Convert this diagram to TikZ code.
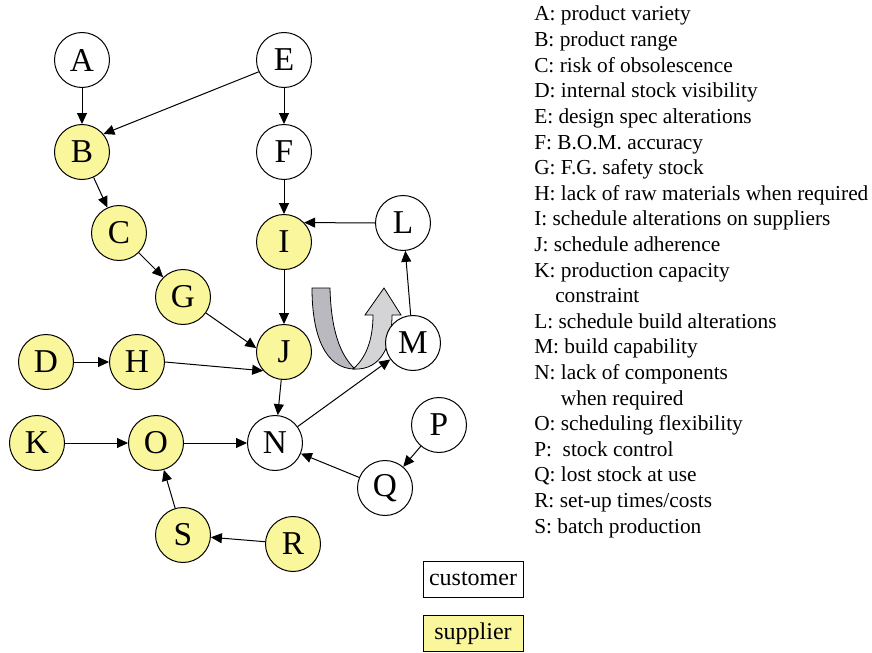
\documentclass[tikz,border=0pt]{standalone}
\usepackage{fontspec}
\setmainfont{Liberation Serif}
\usetikzlibrary{arrows.meta}
\definecolor{giallo}{RGB}{250,246,155}
\definecolor{grigioscuro}{RGB}{186,185,191}
\definecolor{grigiochiaro}{RGB}{212,212,215}
\tikzset{
    cliente/.style={circle,draw,fill=white,line width=0.75pt,minimum size=41.25pt,inner sep=0pt,font=\fontsize{25}{25}\selectfont},
    fornitore/.style={cliente,fill=giallo},
    freccia/.style={-{Triangle[length=8.25pt,width=7.5pt]},line width=0.75pt},
    voce/.style={anchor=base west,inner sep=0pt,font=\fontsize{16}{18}\selectfont},
    scatola/.style={draw,line width=0.75pt,minimum width=75pt,minimum height=27pt,inner sep=0pt,font=\fontsize{18}{18}\selectfont}
}
\begin{document}
\begin{tikzpicture}[x=0.75pt,y=-0.75pt]
        \useasboundingbox (0,0) rectangle (872,653);
        % freccia a U
        \filldraw [fill=grigioscuro,line width=0.6pt] (312,288) -- (330,288) .. controls (331,330) and (340,355) .. (355,369) .. controls (325,369) and (312,335) .. (312,288) -- cycle;
        \filldraw [fill=grigiochiaro,line width=0.6pt] (353,369) .. controls (383,371) and (392,342) .. (392,315) -- (401,315) -- (384,288) -- (365,315) -- (373,315) .. controls (373,340) and (366,358) .. (353,369) -- cycle;
        % nodi
        \node [cliente] (A) at (82,60) {A};
        \node [fornitore] (B) at (82,152) {B};
        \node [cliente] (E) at (284,60) {E};
        \node [cliente] (F) at (284,152) {F};
        \node [fornitore] (C) at (119,233) {C};
        \node [fornitore] (G) at (183,297) {G};
        \node [fornitore] (I) at (284,242) {I};
        \node [cliente] (L) at (403,223) {L};
        \node [fornitore] (J) at (284,352) {J};
        \node [cliente] (M) at (413,343) {M};
        \node [fornitore] (D) at (46,362) {D};
        \node [fornitore] (H) at (137,362) {H};
        \node [fornitore] (K) at (37,443) {K};
        \node [fornitore] (O) at (156,443) {O};
        \node [cliente] (N) at (275,443) {N};
        \node [cliente] (P) at (439,425) {P};
        \node [cliente] (Q) at (385,488) {Q};
        \node [fornitore] (S) at (183,535) {S};
        \node [fornitore] (R) at (293,544) {R};
        % frecce
        \draw [freccia] (A) -- (B);\draw [freccia] (E.205) -- (B.40);
        \draw [freccia] (E) -- (F);\draw [freccia] (B) -- (C);
        \draw [freccia] (C) -- (G);\draw [freccia] (F) -- (I);
        \draw [freccia] (L.west) -- (I.44);\draw [freccia] (I) -- (J);
        \draw [freccia] (G) -- (J.172);\draw [freccia] (D) -- (H);
        \draw [freccia] (H.east) -- (J.222);\draw [freccia] (J) -- (N);
        \draw [freccia] (N) -- (M);\draw [freccia] (M) -- (L);
        \draw [freccia] (K) -- (O);\draw [freccia] (O) -- (N);
        \draw [freccia] (S) -- (O);\draw [freccia] (R) -- (S);
        \draw [freccia] (P) -- (Q);\draw [freccia] (Q) -- (N);
        % legenda
        \foreach \riga [count=\i] in {A: product variety,B: product range,C: risk of obsolescence,
            D: internal stock visibility,E: design spec alterations,F: B.O.M. accuracy,G: F.G. safety stock,
            H: lack of raw materials when required,I: schedule alterations on suppliers,J: schedule adherence,
            K: production capacity,\hspace*{15.75pt}constraint,L: schedule build alterations,M: build capability,
            N: lack of components,\hspace*{20pt}when required,O: scheduling flexibility,P:\ \ stock control,
            Q: lost stock at use,R: set-up times/costs,S: batch production}
            \node [voce] (leg\i) at (534,{21+25.6*(\i-1)}) {\riga};
        \node [scatola,fill=white] (cust) at (473,579) {customer};
        \node [scatola,fill=giallo] (supp) at (473,633.5) {supplier};
    \end{tikzpicture}
\end{document}
